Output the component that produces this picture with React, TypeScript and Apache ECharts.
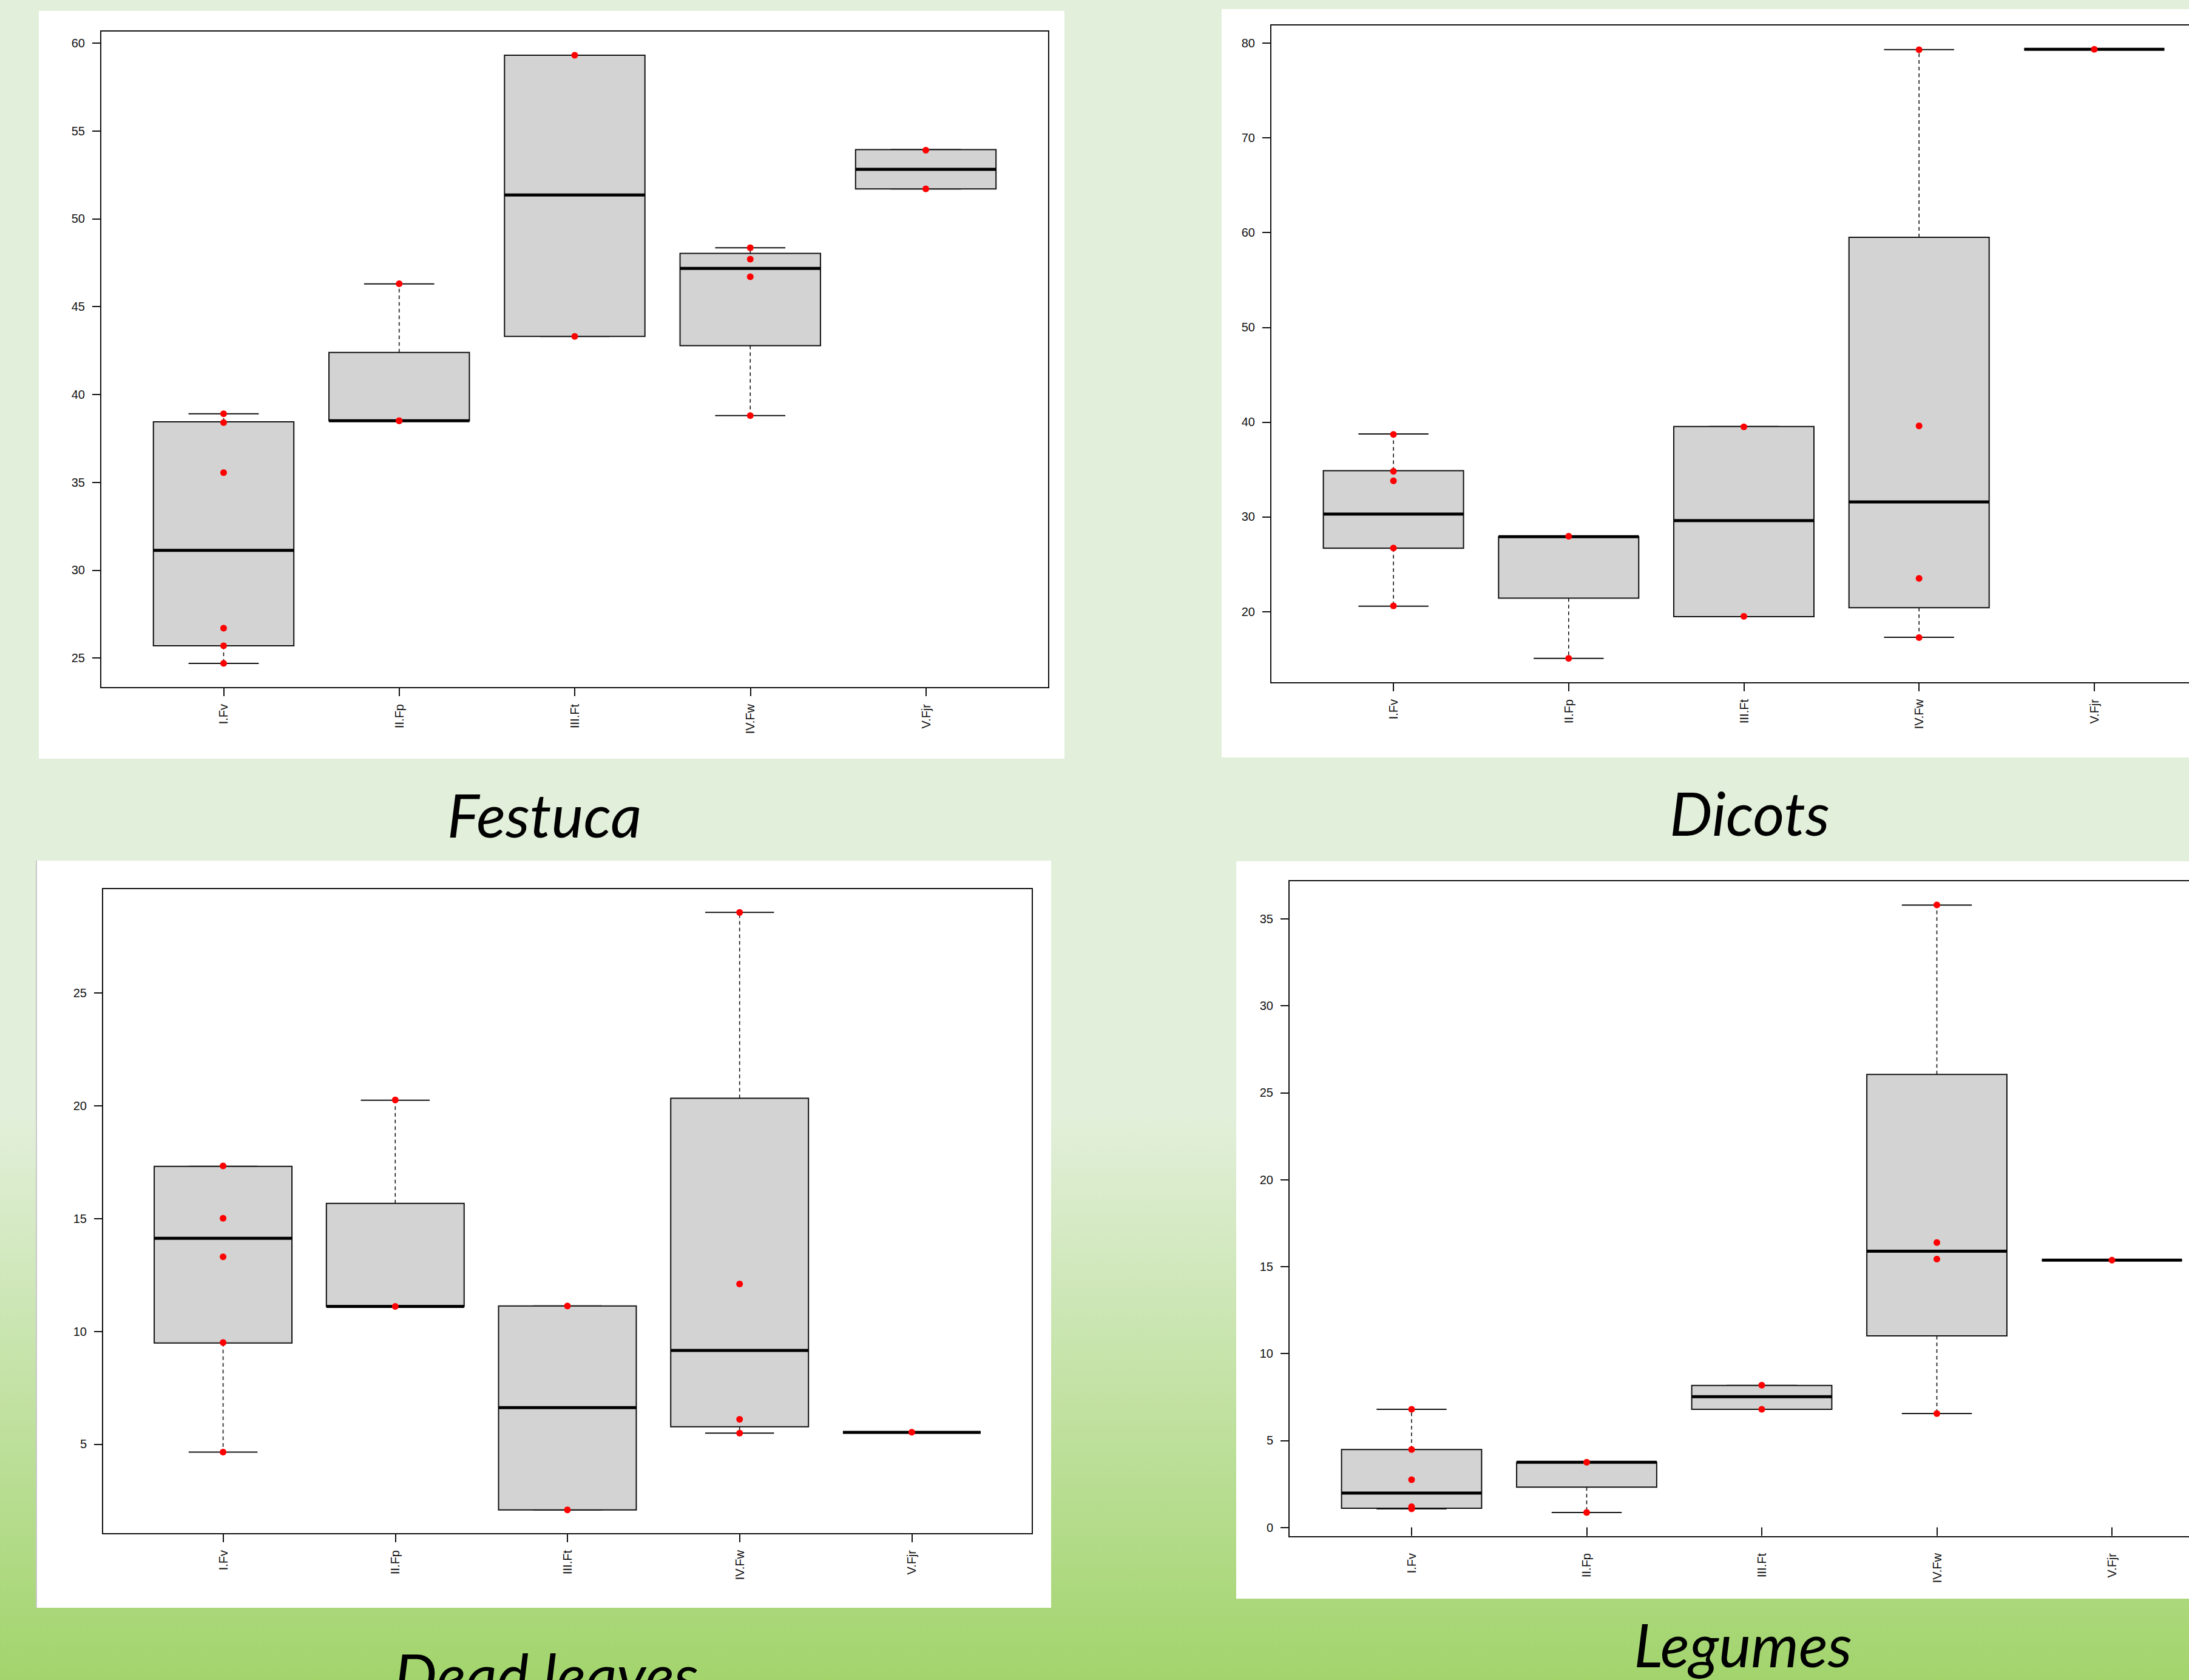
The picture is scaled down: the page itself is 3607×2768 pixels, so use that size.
import React, { useEffect, useRef } from "react";
import * as echarts from "echarts";

// ---------- data ----------
const categories = ["I.Fv", "II.Fp", "III.Ft", "IV.Fw", "V.Fjr"];

// box stats per category: [min, Q1, median, Q3, max]
const festucaBoxes = [
  [24.7, 25.7, 31.13, 38.44, 38.9],
  [38.5, 38.5, 38.5, 42.39, 46.29],
  [43.3, 43.3, 51.35, 59.3, 59.3],
  [38.8, 42.78, 47.17, 48.03, 48.35],
  [51.7, 51.7, 52.81, 53.93, 53.93],
];
const festucaPoints = [
  [38.9, 38.4, 35.55, 26.7, 25.7, 24.7],
  [46.3, 38.5, 38.5],
  [59.3, 43.3],
  [48.35, 47.7, 46.7, 38.8],
  [53.9, 51.7],
];
const festucaTicks = [25, 30, 35, 40, 45, 50, 55, 60];

const dicotsBoxes = [
  [20.57, 26.68, 30.29, 34.86, 38.74],
  [15.05, 21.42, 27.9, 27.9, 27.9],
  [19.46, 19.46, 29.6, 39.53, 39.53],
  [17.28, 20.41, 31.57, 59.5, 79.31],
  [79.35, 79.35, 79.35, 79.35, 79.35],
];
const dicotsPoints = [
  [38.7, 34.8, 33.8, 26.7, 20.6],
  [27.95, 15.05],
  [39.5, 19.5],
  [79.3, 39.6, 23.5, 17.25],
  [79.35],
];
const dicotsTicks = [20, 30, 40, 50, 60, 70, 80];

const deadBoxes = [
  [4.65, 9.48, 14.12, 17.31, 17.31],
  [11.1, 11.1, 11.1, 15.67, 20.24],
  [2.09, 2.09, 6.62, 11.12, 11.12],
  [5.49, 5.77, 9.15, 20.33, 28.56],
  [5.52, 5.52, 5.52, 5.52, 5.52],
];
const deadPoints = [
  [17.33, 15.01, 13.3, 9.5, 4.65],
  [20.25, 11.1],
  [11.12, 2.09],
  [28.56, 12.1, 6.1, 5.49],
  [5.53],
];
const deadTicks = [5, 10, 15, 20, 25];

const legumesBoxes = [
  [1.07, 1.1, 1.98, 4.48, 6.79],
  [0.86, 2.32, 3.75, 3.75, 3.75],
  [6.79, 6.79, 7.52, 8.16, 8.16],
  [6.55, 11.02, 15.89, 26.05, 35.79],
  [15.37, 15.37, 15.37, 15.37, 15.37],
];
const legumesPoints = [
  [6.79, 4.48, 2.74, 1.19, 1.07],
  [3.75, 0.86],
  [8.18, 6.79],
  [35.8, 16.38, 15.43, 6.55],
  [15.37],
];
const legumesTicks = [0, 5, 10, 15, 20, 25, 30, 35];

const titles = ["Festuca", "Dicots", "Dead leaves", "Legumes"];

// ---------- layout ----------
const W = 3607;
const H = 2768;
const CHART_W = 3760; // wider than the page so the right panels are cut like the reference

const panels = [
  {
    boxes: festucaBoxes, points: festucaPoints, ticks: festucaTicks,
    grid: { left: 166, top: 51, width: 1562, height: 1082 },
    card: { left: 64, top: 18, width: 1690, height: 1232 },
    title: { x: 897, y: 1341 },
  },
  {
    boxes: dicotsBoxes, points: dicotsPoints, ticks: dicotsTicks,
    grid: { left: 2094, top: 41, width: 1559, height: 1084 },
    card: { left: 2013, top: 15, width: 1700, height: 1233 },
    title: { x: 2883, y: 1338 },
  },
  {
    boxes: deadBoxes, points: deadPoints, ticks: deadTicks,
    grid: { left: 169, top: 1464, width: 1532, height: 1063 },
    card: { left: 61, top: 1418, width: 1671, height: 1231 },
    title: { x: 900, y: 2758 },
  },
  {
    boxes: legumesBoxes, points: legumesPoints, ticks: legumesTicks,
    grid: { left: 2124, top: 1451, width: 1558, height: 1081 },
    card: { left: 2037, top: 1419, width: 1700, height: 1215 },
    title: { x: 2872, y: 2708 },
  },
];

function yRange(boxes: number[][], points: number[][]) {
  const all: number[] = [];
  boxes.forEach((b) => all.push(...b));
  points.forEach((p) => all.push(...p));
  const lo = Math.min(...all);
  const hi = Math.max(...all);
  const pad = (hi - lo) * 0.04;
  return [lo - pad, hi + pad];
}

const labelFont = "Liberation Sans";

function buildOption() {
  const grid: any[] = [];
  const xAxis: any[] = [];
  const yAxis: any[] = [];
  const series: any[] = [];
  const graphic: any[] = [];

  panels.forEach((p, i) => {
    const [ymin, ymax] = yRange(p.boxes, p.points);
    grid.push({
      ...p.grid,
      show: true,
      borderColor: "#111",
      borderWidth: 2,
      backgroundColor: "transparent",
      containLabel: false,
    });
    xAxis.push({
      type: "value",
      gridIndex: i,
      min: 0.3,
      max: 5.7,
      splitLine: { show: false },
      axisLine: { show: false },
      axisTick: {
        show: true,
        customValues: [1, 2, 3, 4, 5],
        length: 14,
        lineStyle: { color: "#111", width: 2 },
      },
      axisLabel: {
        customValues: [1, 2, 3, 4, 5],
        formatter: (v: number) => categories[Math.round(v) - 1] || "",
        rotate: 90,
        margin: 27,
        fontSize: 20,
        fontFamily: labelFont,
        color: "#111",
      },
    });
    yAxis.push({
      type: "value",
      gridIndex: i,
      min: ymin,
      max: ymax,
      splitLine: { show: false },
      axisLine: { show: false },
      axisTick: {
        show: true,
        customValues: p.ticks,
        length: 14,
        lineStyle: { color: "#111", width: 2 },
      },
      axisLabel: {
        customValues: p.ticks,
        margin: 26,
        fontSize: 20,
        fontFamily: labelFont,
        color: "#111",
      },
    });
    series.push({
      type: "custom",
      xAxisIndex: i,
      yAxisIndex: i,
      data: p.boxes.map((b, j) => [j + 1, ...b]),
      encode: { x: 0, y: [1, 2, 3, 4, 5] },
      z: 3,
      renderItem: (_params: any, api: any) => {
        const x = api.value(0);
        const vals = [1, 2, 3, 4, 5].map((k) => api.value(k));
        const pts = vals.map((v) => api.coord([x, v]));
        const cx = pts[0][0];
        const yMin = pts[0][1];
        const yQ1 = pts[1][1];
        const yMed = pts[2][1];
        const yQ3 = pts[3][1];
        const yMax = pts[4][1];
        const half = api.size([0.8, 0])[0] / 2;
        const capHalf = api.size([0.4, 0])[0] / 2;
        const dash = { stroke: "#111", lineWidth: 1.6, lineDash: [6, 5] };
        const solid = { stroke: "#111", lineWidth: 2 };
        return {
          type: "group",
          children: [
            { type: "line", shape: { x1: cx, y1: yQ3, x2: cx, y2: yMax }, style: dash },
            { type: "line", shape: { x1: cx, y1: yQ1, x2: cx, y2: yMin }, style: dash },
            { type: "line", shape: { x1: cx - capHalf, y1: yMax, x2: cx + capHalf, y2: yMax }, style: solid },
            { type: "line", shape: { x1: cx - capHalf, y1: yMin, x2: cx + capHalf, y2: yMin }, style: solid },
            {
              type: "rect",
              shape: { x: cx - half, y: yQ3, width: half * 2, height: yQ1 - yQ3 },
              style: { fill: "#D3D3D3", stroke: "#111", lineWidth: 2 },
            },
            {
              type: "line",
              shape: { x1: cx - half, y1: yMed, x2: cx + half, y2: yMed },
              style: { stroke: "#000", lineWidth: 5 },
            },
          ],
        };
      },
    });
    const scatterData: number[][] = [];
    p.points.forEach((arr, j) => arr.forEach((v) => scatterData.push([j + 1, v])));
    series.push({
      type: "scatter",
      xAxisIndex: i,
      yAxisIndex: i,
      data: scatterData,
      symbol: "circle",
      symbolSize: 11,
      itemStyle: { color: "#FF0000", opacity: 1 },
      z: 5,
    });
    graphic.push({
      type: "text",
      x: p.title.x,
      y: p.title.y,
      style: {
        text: titles[i],
        font: "italic 100px Lato",
        fill: "#000",
        align: "center",
        verticalAlign: "middle",
      },
    });
  });

  return {
    animation: false,
    backgroundColor: "transparent",
    grid,
    xAxis,
    yAxis,
    series,
    graphic,
  };
}

export default function App() {
  const ref = useRef<HTMLDivElement>(null);
  useEffect(() => {
    if (!ref.current) return;
    document.body.style.margin = "0";
    const chart = echarts.init(ref.current, undefined, { renderer: "svg", width: CHART_W, height: H });
    chart.setOption(buildOption() as any);
    return () => chart.dispose();
  }, []);

  return (
    <div
      style={{
        position: "absolute",
        left: 0,
        top: 0,
        width: W,
        height: H,
        overflow: "hidden",
        background: "linear-gradient(to bottom, #E2EFDA 0px, #E2EFDA 1836px, #A2D46C 2768px)",
      }}
    >
      {panels.map((p, i) => (
        <div
          key={i}
          style={{
            position: "absolute",
            left: p.card.left,
            top: p.card.top,
            width: p.card.width,
            height: p.card.height,
            background: "#FFFFFF",
            boxShadow: i === 2 ? "-2px 0 0 #c8c8c8" : "none",
          }}
        />
      ))}
      <div ref={ref} style={{ position: "absolute", left: 0, top: 0, width: CHART_W, height: H }} />
    </div>
  );
}
